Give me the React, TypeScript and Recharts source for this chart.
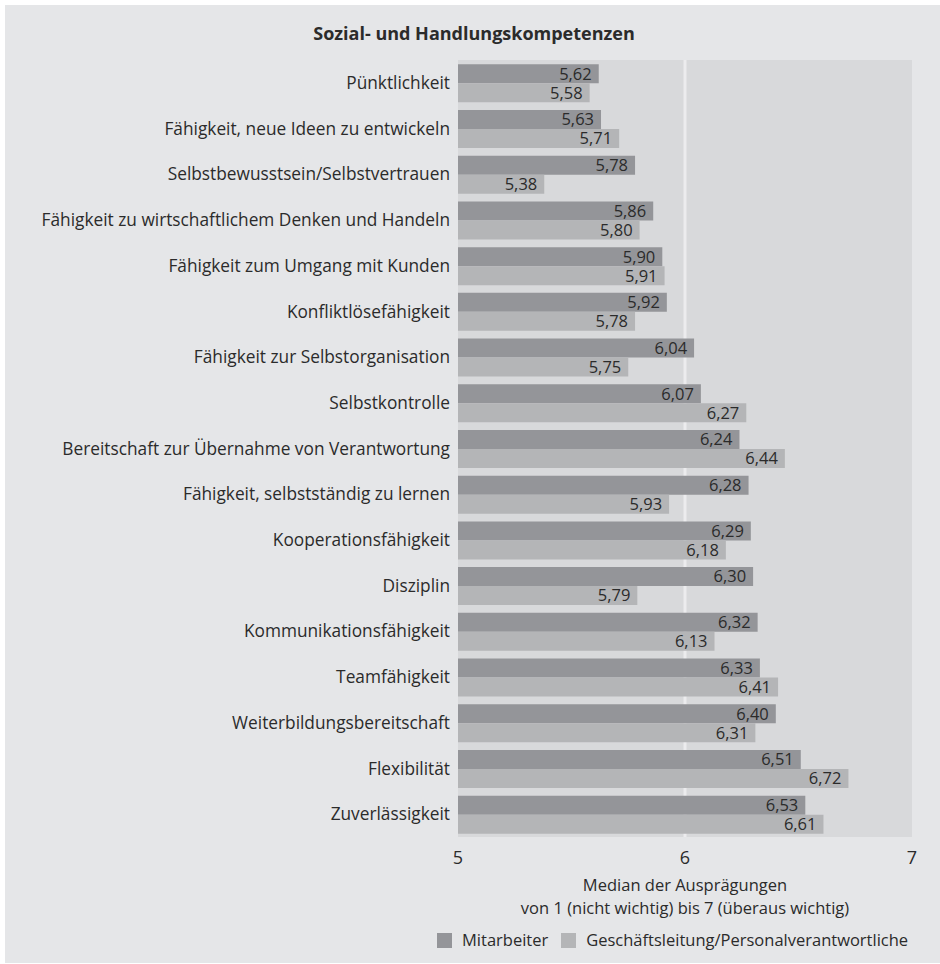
import React from 'react'
import {
  BarChart, Bar, XAxis, YAxis, CartesianGrid, ReferenceLine, LabelList, Legend,
} from 'recharts'

const categories = [
  'Pünktlichkeit',
  'Fähigkeit, neue Ideen zu entwickeln',
  'Selbstbewusstsein/Selbstvertrauen',
  'Fähigkeit zu wirtschaftlichem Denken und Handeln',
  'Fähigkeit zum Umgang mit Kunden',
  'Konfliktlösefähigkeit',
  'Fähigkeit zur Selbstorganisation',
  'Selbstkontrolle',
  'Bereitschaft zur Übernahme von Verantwortung',
  'Fähigkeit, selbstständig zu lernen',
  'Kooperationsfähigkeit',
  'Disziplin',
  'Kommunikationsfähigkeit',
  'Teamfähigkeit',
  'Weiterbildungsbereitschaft',
  'Flexibilität',
  'Zuverlässigkeit',
]

const mitarbeiter = [5.62, 5.63, 5.78, 5.86, 5.90, 5.92, 6.04, 6.07, 6.24, 6.28, 6.29, 6.30, 6.32, 6.33, 6.40, 6.51, 6.53]
const leitung = [5.58, 5.71, 5.38, 5.80, 5.91, 5.78, 5.75, 6.27, 6.44, 5.93, 6.18, 5.79, 6.13, 6.41, 6.31, 6.72, 6.61]

const xTicks = [5, 6, 7]
const title = 'Sozial- und Handlungskompetenzen'
const axisTitle = ['Median der Ausprägungen', 'von 1 (nicht wichtig) bis 7 (überaus wichtig)']
const seriesNames = ['Mitarbeiter', 'Geschäftsleitung/Personalverantwortliche']

const data = categories.map((name, i) => ({ name, m: mitarbeiter[i], g: leitung[i] }))

const FONT = '"Open Sans", "Noto Sans", sans-serif'
const TEXT = '#2b2b2b'

const fmt = (v: number) => v.toFixed(2).replace('.', ',')

function AxisTitle({ viewBox }: { viewBox?: { x: number; y: number; width: number } }) {
  if (!viewBox) return null
  const cx = viewBox.x + viewBox.width / 2
  return (
    <g>
      <text x={cx} y={viewBox.y + 54} textAnchor="middle" fontSize={16.5} fill={TEXT} fontFamily={FONT}>
        {axisTitle[0]}
      </text>
      <text x={cx} y={viewBox.y + 77} textAnchor="middle" fontSize={16.5} fill={TEXT} fontFamily={FONT}>
        {axisTitle[1]}
      </text>
    </g>
  )
}

function LegendContent({ payload }: { payload?: Array<{ value: string; color: string }> }) {
  if (!payload) return null
  const items = [...payload].sort((a, b) => seriesNames.indexOf(a.value) - seriesNames.indexOf(b.value))
  return (
    <div style={{ display: 'flex', alignItems: 'center', fontSize: 16.5, color: TEXT, fontFamily: FONT, lineHeight: '20px' }}>
      {items.map(p => (
        <span key={p.value} style={{ display: 'flex', alignItems: 'center', marginRight: 13 }}>
          <span style={{ width: 15, height: 15, background: p.color, marginRight: 10, display: 'inline-block' }} />
          {p.value}
        </span>
      ))}
    </div>
  )
}

export default function App() {
  return (
    <div style={{ position: 'absolute', left: 0, top: 0, width: 940, height: 964, background: '#fff' }}>
      <div style={{ position: 'absolute', left: 5, top: 5, right: 0, bottom: 1, background: '#e5e6e8' }} />
      <div style={{
        position: 'absolute', left: 0, top: 20, width: 948, textAlign: 'center',
        fontFamily: FONT, fontWeight: 700, fontSize: 18, color: TEXT, lineHeight: '26px',
      }}>
        {title}
      </div>
      <div style={{ position: 'absolute', left: 0, top: 0 }}>
        <BarChart
          width={940}
          height={964}
          data={data}
          layout="vertical"
          margin={{ top: 60, right: 28, bottom: 0, left: 8 }}
          barCategoryGap="9.5%"
          barGap={0}
        >
          <CartesianGrid horizontal={false} vertical={false} fill="#d8d9db" fillOpacity={1} stroke="none" />
          <ReferenceLine x={6} stroke="#ececee" strokeWidth={3} zIndex={-10} />
          <XAxis
            type="number"
            domain={[5, 7]}
            ticks={xTicks}
            allowDataOverflow
            axisLine={false}
            tickLine={false}
            tickMargin={8}
            height={127}
            tick={{ fontSize: 18, fill: TEXT, fontFamily: FONT }}
            label={<AxisTitle />}
          />
          <YAxis
            type="category"
            dataKey="name"
            width={450}
            interval={0}
            axisLine={false}
            tickLine={false}
            tick={{ fontSize: 17.3, fill: TEXT, fontFamily: FONT }}
          />
          <Legend
            layout="horizontal"
            verticalAlign="middle"
            content={<LegendContent />}
            wrapperStyle={{ left: 437, top: 930, width: 500 }}
          />
          <Bar dataKey="m" name={seriesNames[0]} fill="#949599" isAnimationActive={false}>
            <LabelList dataKey="m" position="insideRight" offset={7} formatter={fmt}
              style={{ fontSize: 16.5, fill: TEXT, fontFamily: FONT }} />
          </Bar>
          <Bar dataKey="g" name={seriesNames[1]} fill="#b4b5b7" isAnimationActive={false}>
            <LabelList dataKey="g" position="insideRight" offset={7} formatter={fmt}
              style={{ fontSize: 16.5, fill: TEXT, fontFamily: FONT }} />
          </Bar>
        </BarChart>
      </div>
    </div>
  )
}
